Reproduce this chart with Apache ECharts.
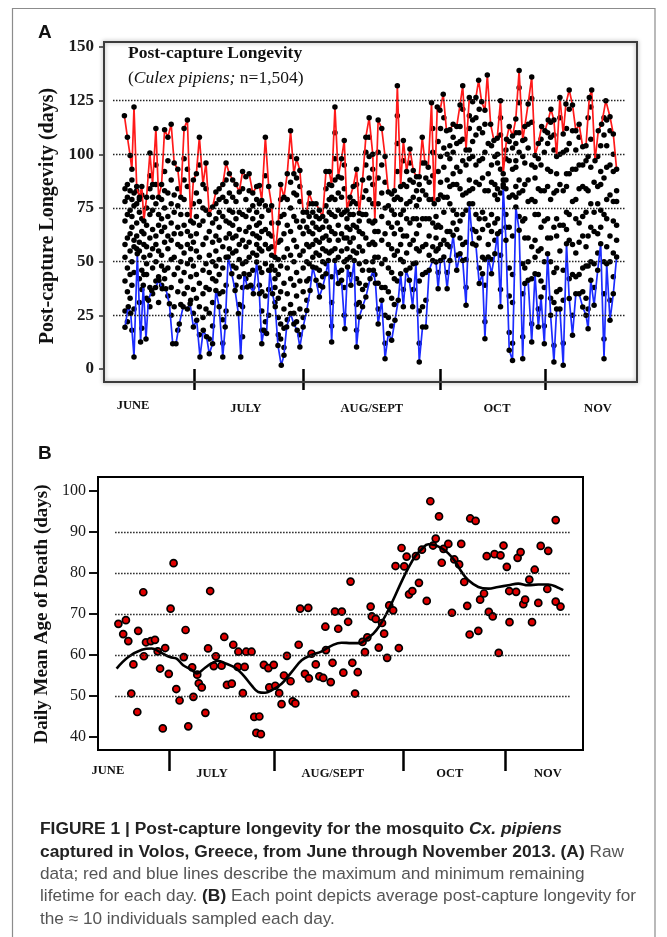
<!DOCTYPE html>
<html>
<head>
<meta charset="utf-8">
<script src="https://cdn.jsdelivr.net/npm/echarts@6/dist/echarts.min.js"></script>
<style>
  html, body { margin: 0; padding: 0; background: #fff; }
  #chart { width: 667px; height: 937px; }
</style>
</head>
<body>
<div id="chart"></div>
<script>
// ---- panel A : raw post-capture longevity, x = sampling day index ----
// daily maximum (red line)
const maxLine = [
  [6.8,118],[7.8,108],[8.7,99.5],[9.3,93],[10,122],[10.9,85],[11.8,80],[12.6,85],[13.3,69],[14.2,80],
  [15.3,100.6],[16.2,86],[17.3,112],[18.2,80],[19.2,86],[20.2,111.5],[21.3,108],[22.4,114],[23.4,96],[24.6,93],
  [25.6,80],[26.7,112],[27.8,116],[28.9,69],[29.8,88],[30.8,91],[31.8,108],[33,86],[34,96],[35.1,72],
  [36.2,75.5],[37.3,82.5],[38.4,84],[39.6,86],[40.7,96],[41.8,91],[42.9,88],[44,86],[45.1,82.5],[46.2,92],
  [47.3,89.5],[48.4,91],[49.6,82],[50.9,85],[51.8,85.5],[52.6,78.5],[53.8,108],[54.9,85],[55.9,76],[57,52],
  [58.1,68],[58.9,86],[60,80],[61.1,91],[62.2,111],[63.3,91],[64.2,98],[65.3,92.5],[66.4,73],[67.6,73],
  [68.4,82],[69.6,77],[70.7,77],[71.8,74],[72.9,71],[74,92],[75.1,92],[75.9,85.5],[77,122],[78.1,89.5],
  [79.2,98],[80.1,106.5],[81,74],[82,80],[83.1,85],[84.2,93],[85.1,72.5],[86.2,88],[87.3,108],[88.4,117],
  [89.6,100],[90.3,69],[91.4,116],[92.6,112],[93.7,99],[94.8,82.5],[95.9,81.5],[96.8,83],[97.8,132],[98.9,85],
  [99.8,106.5],[100.9,92],[102,102.5],[103.1,92.5],[104.2,89.5],[105.1,89.5],[106.1,108],[107,96],[108.1,94],[109.2,124],
  [110.1,77],[111.1,122],[112,120.5],[113.1,128],[114.2,111],[115.3,111.5],[116.4,114],[117.6,113],[118.7,123],[119.6,132],
  [120.7,102],[121.8,126.5],[122.9,124.5],[124,126.5],[124.9,134.5],[125.9,124.5],[127,120.5],[127.8,137],[128.9,114],[130,106.5],
  [131.1,107.5],[132.2,125],[133.1,91],[134.2,107],[135.1,113],[136.2,108.5],[137.3,116.5],[138.4,139],[139.6,106.5],[140.3,113],
  [141.4,123.5],[142.6,136],[143.7,99.5],[144.8,105],[145.9,113],[147,111],[148.1,116],[149,121],[150,116],[150.9,99],
  [152,126.5],[153.1,109.5],[154,123.5],[155.1,130],[156.2,123],[157.3,111],[158.4,114],[159.6,103.5],[160.7,104],[161.8,126.5],
  [162.6,130],[163.7,97],[164.8,111],[165.9,114],[167.3,125],[168.7,117.5],[169.8,109.5],[170.9,93]
];

// daily minimum (blue line)
const minLine = [
  [7,19.5],[8.1,29],[8.9,26],[10,5.6],[11.1,53.7],[12.2,12.6],[13.1,39],[14,14],[14.8,32],[15.9,36.6],
  [17.2,38],[18.3,41.3],[19.4,37.4],[20.6,37.4],[21.8,30.4],[22.9,11.8],[24,11.8],[25.1,21],[26.4,29],[27.8,28],
  [28.7,30.4],[29.8,19.6],[30.9,22.7],[32,5.6],[33.1,18],[34.2,15],[35.1,7.1],[36.2,11.8],[37.3,36.6],[38.4,29],
  [39.6,5.6],[40.4,19.6],[41.4,52.2],[42.6,44.4],[43.7,36.6],[44.8,25.8],[45.6,5.6],[46.7,44.4],[47.8,38.2],[48.9,39],
  [49.8,35],[50.9,49.8],[51.8,35],[52.6,11.8],[53.3,18],[54.2,16.5],[55.3,46],[56.2,35],[57.1,29],[58,11],
  [59.1,1.7],[60,6.4],[60.9,19.6],[62.2,25.8],[63.3,21],[64.4,18],[65.3,10.2],[66.4,19.6],[67.6,27.3],[68.7,36.6],
  [69.6,47.5],[70.7,41.3],[71.8,33.5],[72.9,38.2],[74,44.4],[74.8,50.6],[75.9,12.6],[77,50.6],[78.1,39.8],[79.2,41.3],
  [80.3,18.8],[81.2,47.5],[82.3,39],[83.4,50.6],[84.2,10.2],[85.1,24.2],[86.2,29],[87.3,33.5],[88.7,42],[89.8,46],
  [90.5,40],[91.4,21],[92.6,32],[93.7,4.8],[94.8,16.5],[95.9,13.4],[97,22.7],[98.1,32],[98.9,44.4],[99.8,29],
  [100.7,46],[101.8,41.3],[102.9,29],[104,49.4],[105.1,3.3],[106.2,19.6],[107.3,19.6],[108.4,46],[109.6,50.6],[110.7,49.8],
  [111.4,37.4],[112.2,50.6],[113.3,52.2],[114.4,37.4],[115.3,50.6],[116.4,62.3],[117.6,46],[118.7,53.7],[119.6,50.6],[120.7,29.7],
  [121.8,77],[122.9,58.4],[124,57.6],[125.1,39.8],[126.2,44.4],[127,14.1],[128.1,52.2],[129.2,44.4],[130.3,53.7],[131.2,63],
  [132.2,29],[133.1,84.8],[134,60],[135.1,8.7],[136.2,4],[137.3,75.5],[138.4,64.6],[139.6,4.8],[140.3,39.8],[141.4,41.3],
  [142.6,12.6],[143.7,44.4],[144.8,19.6],[145.7,33.5],[146.8,11.8],[147.9,53.7],[148.9,25],[150,3.3],[150.9,28],[152,28],
  [153.1,1.7],[154.2,58.4],[155.1,32.8],[156.2,15.7],[157.3,35],[158.4,35],[159.6,28.9],[160.7,25],[161.4,18.8],[162.3,41.3],
  [163.4,29.7],[164.6,46],[165.6,58.4],[166.7,4.8],[167.6,49],[168.7,22.7],[169.8,35],[170.9,52.2]
];

// the other individuals of each day: [day, value, value, ...]
const cloudRows = [
  [7,27,41,52,58,69,78,84],[7.8,22,36,47,61,72,80,86],[8.7,33,44,55,63,74,83],[9.3,18,39,50,66,71,79,88],
  [10,28,45,57,60,76,82],[10.9,56,62,68,77,83],[11.8,31,42,55,59,73,79],[12.6,19,37,46,64,70,81],
  [13.3,44,52,58,63],[14.2,33,44,49,57,67,75],[15.3,29,38,53,61,72,84,90],[16.2,35,47,56,65,74,80],
  [17.3,41,50,58,62,77,86,95],[18.2,31,43,55,67,72],[19.2,39,48,53,64,70,79],[20.2,42,46,59,66,75,83,92],
  [21.3,34,47,56,62,71,82,97],[22.4,25,38,51,60,68,77,88],[23.4,29,44,52,63,73,81],[24.6,18,36,47,58,66,76,84],
  [25.6,30,41,50,57,63,72],[26.7,35,45,54,67,79,88,98],[27.8,38,49,58,64,72,85,93],[28.9,32,43,51,56,62],
  [29.8,26,37,48,59,68,77],[30.8,33,44,55,63,71,82],[31.8,16,29,40,52,67,78,95],[33,24,35,46,58,69,75],
  [34,28,38,49,61,74,84],[35.1,14,26,37,45,53,64],[36.2,20,31,42,50,59,68],[37.3,41,48,55,62,70,77],
  [38.4,35,44,51,60,66,73,79],[39.6,12,23,36,47,57,71,80],[40.7,27,39,52,61,69,78,88],[41.8,56,63,68,74,82],
  [42.9,48,54,61,67,73,80],[44,39,47,55,62,70,78],[45.1,30,43,51,58,65,73],[46.2,15,29,38,49,60,72,84],
  [47.3,42,50,57,64,71,79],[48.4,44,52,59,66,74,83],[49.6,38,46,54,63,70,76],[50.9,53,58,62,67,73,79],
  [51.8,39,47,56,61,68,77],[52.6,18,27,36,45,55,64,71],[53.8,22,34,49,58,65,76,90],[54.9,25,37,46,56,63,74],
  [55.9,48,53,57,62,68],[57,31,38,42,46],[58.1,16,24,33,44,51,59],[58.9,14,21,36,48,60,71,79],
  [60,10,19,28,40,52,63,72],[61.1,23,35,47,56,67,79],[62.2,30,42,53,64,75,87,99],[63.3,26,39,50,60,71,82],
  [64.2,22,34,45,57,69,81,89],[65.3,16,28,41,53,66,78,85],[66.4,24,36,47,55,63,69],[67.6,32,41,50,58,66],
  [68.4,42,49,57,64,71,77],[69.6,52,58,63,68,73],[70.7,47,54,60,66,71],[71.8,39,46,53,59,65,70],
  [72.9,43,50,56,61,66],[74,49,55,62,69,76,84],[75.1,54,60,66,73,79,86],[75.9,20,31,43,55,64,72,80],
  [77,56,63,71,79,88,98,110],[78.1,45,52,60,67,74,82],[79.2,46,55,63,72,80,89],[80.1,25,38,50,61,73,84,95],
  [81,51,56,61,66,70],[82,44,52,59,65,72,77],[83.1,55,61,67,72,78],[84.2,18,30,42,54,66,77,86],
  [85.1,31,40,49,57,64,69],[86.2,37,46,55,63,72,80],[87.3,39,50,61,72,83,95,101],[88.4,46,58,69,79,89,99,108],
  [89.6,50,59,68,77,86,93],[90.3,44,52,58,64],[91.4,28,40,52,64,77,89,101],[92.6,38,49,60,71,82,95],
  [93.7,12,25,38,51,63,75,87],[94.8,24,36,47,58,68,76],[95.9,20,33,45,56,66,74],[96.8,30,42,53,63,72,79],
  [97.8,41,55,68,80,92,105,118],[98.9,51,58,65,72,79],[99.8,37,50,62,74,86,97],[100.9,54,62,70,77,85],
  [102,47,58,68,78,88,96],[103.1,37,49,60,70,80,87],[104.2,56,63,70,76,83],[105.1,12,27,41,55,67,79,86],
  [106.2,29,44,57,70,83,96],[107.3,32,45,58,70,81,89],[108.4,53,62,70,79,87],[109.6,57,68,79,90,101,112],
  [110.7,55,61,66,71],[111.4,45,56,67,79,92,106],[112.2,58,66,81,87,99,112],[113.3,60,73,80,94,103,117],
  [114.4,45,58,64,80,88,100],[115.3,57,64,77,85,98,104],[116.4,68,74,86,91,101,108],[117.6,53,65,72,86,94,105],
  [118.7,61,69,84,92,106,113],[119.6,58,72,81,97,107,121],[120.7,38,51,59,74,82,95],[121.8,83,88,98,102,112,118],
  [122.9,65,77,84,99,106,116],[124,64,72,87,95,109,117],[125.1,47,61,70,86,97,112,121],[126.2,52,65,73,89,98,110],
  [127,22,39,51,70,83,101,114],[128.1,58,67,83,91,105],[129.2,51,64,72,87,95,104],[130.3,60,68,81,86,99],
  [131.2,70,79,84,96,100],[132.2,37,53,64,82,93,109,117],[133.1,86,88],[134,66,72,84,88,98,102],
  [135.1,17,34,47,66,80,97,106],[136.2,12,31,44,62,81,93,103],[137.3,80,85,94,97,105,110],[138.4,71,82,88,101,110,124,131],
  [139.6,15,35,49,69,83,99],[140.3,47,61,70,86,96,107],[141.4,50,61,78,88,103,114],[142.6,21,42,57,79,95,115,126],
  [143.7,52,60,72,78,89,94],[144.8,28,44,55,72,84,98],[145.7,41,56,66,83,95,107],[146.8,20,38,50,69,83,101],
  [147.9,61,70,85,93,105,110],[148.9,33,50,61,79,92,108,115],[150,11,31,45,66,82,102,109],[150.9,36,47,62,70,83,91],
  [152,37,55,67,86,100,117],[153.1,12,32,46,67,83,101],[154.2,65,73,85,91,102,112],[155.1,42,60,72,91,105,121],
  [156.2,25,44,58,78,93,111],[157.3,43,54,70,79,93,102],[158.4,44,59,68,84,95,108],[159.6,36,47,62,71,85,95],
  [160.7,33,48,57,73,84,97],[161.4,28,48,62,83,99,117],[162.3,50,66,77,94,107,122],[163.4,38,49,64,73,87],
  [164.6,54,63,77,85,99],[165.6,66,74,86,92,104],[166.7,14,35,50,72,89,109,117],[167.6,57,70,79,94,104,116],
  [168.7,32,50,62,81,95,111],[169.8,43,54,69,78,92,100],[170.9,60,67,78,83]
];

const gridValsA = [25, 50, 75, 100, 125];
const monthTicksA = [30, 66.3, 112, 147];
const monthLabelDaysA = [9.7, 47.3, 89.3, 131, 164.7];
const monthNames = ['JUNE', 'JULY', 'AUG/SEPT', 'OCT', 'NOV'];

// ---- panel B : daily mean age of death ----
const daysB = [
  5.9,6.8,8.4,9.3,10.1,11.1,11.8,13.1,13.4,15.1,15.3,16,17.6,19,19.9,20.7,21.6,22.4,23.6,24.2,
  25.2,26.1,27.2,28.6,29.2,30.1,31.4,31.8,33.1,33.6,34.6,35.8,36.7,37.4,38.6,39.3,41.2,42.1,43,44.6,
  45.1,46.6,46.8,48.3,48.9,49.4,51.2,52.1,52.8,53.8,54.3,55.3,56.8,57.1,58.6,59.1,60.4,61.2,62,63,
  64.2,64.9,65.8,66.9,67.4,69,70.1,70.3,71.2,72.6,73.8,75.1,75.8,76,77.6,78.2,79,80.1,81.3,81.8,
  83.4,84.2,84.8,85.7,86.6,88.2,89,89.8,90.9,91.3,92.6,93.6,94.7,95.4,96.4,97.1,98.4,99.2,100.3,101.2,
  102.1,102.9,103.7,104.8,106,107,108,109,109.6,110.8,111.7,112.6,113.7,114.6,115.2,116.8,118,118.8,120.4,121.1,
  122.1,123.1,123.9,124.1,125.9,126.8,127.4,128.7,129.6,130.3,131.6,132.2,133.6,134.2,135.2,136.3,137.1,137.2,139.4,139.9,
  140.9,141.8,142.4,143.8,144.7,145.6,146.8,147.6,149.8,150.1,152.6,152.6,154.2
];
const meanB = [
  38.7,67.6,65.1,68.5,63.4,50.6,57.7,46.1,65.9,75.3,59.7,63.1,63.4,63.7,60.9,56.7,42.1,61.7,55.4,71.3,
  82.4,51.7,48.9,59.5,66.1,42.6,57,49.8,55.2,53.1,52.1,45.9,61.6,75.6,57.3,59.7,57.4,64.4,52.7,53,
  62.5,57.1,60.8,50.7,57.1,60.8,60.8,44.9,41,45,40.7,57.6,56.8,52.1,57.6,52.5,50.7,48,55,59.8,
  53.6,48.7,48.2,62.5,71.3,55.4,71.5,54.3,60.3,57.7,54.8,54.4,66.9,61.2,53.4,58.1,70.6,66.4,70.6,55.7,
  68.1,77.9,58.1,50.6,55.8,63.2,60.7,64.3,71.8,69.4,68.8,61.8,67.8,65.2,59.3,72.1,70.9,81.7,61.7,86.1,
  81.6,84,74.8,75.6,84.1,77.6,85.7,100.7,73.2,97.5,86.7,88.4,93.8,82.5,85.9,87.1,70.3,83.3,82.1,87.1,
  77.8,72,65,93.3,92.7,65.9,73.5,75,84.1,70.5,69.4,84.6,60.5,84.3,86.7,81.5,75.6,68,75.4,83.7,
  85.1,72.4,73.5,78.4,68,80.8,72.7,86.6,76.1,85.4,73,92.9,71.8
];
// smoothed trend (black curve)
const trendDaysB = [
  6.2,10.1,14.6,17.9,20.7,24,26.2,28.4,31.2,32.9,35.7,37.9,40.1,42.3,45.7,48.4,51.2,53.4,55.7,57.9,
  61.2,64.6,67.9,71.2,74.6,77.9,81.2,84.5,87.3,89.6,91.8,94,96.2,98.4,101.2,103.4,105.7,107.9,110.1,112.3,
  114.6,116.8,119,121.2,123.4,126.8,130.1,133.4,136.8,140.1,143.4,146.8,150.1,152.9,155.1
];
const trendB = [
  56.7,59.5,61.3,61.6,60.7,59.5,59.1,57.5,56.4,55.5,56.9,58,58.6,58,56.9,55.1,52.6,51,50.8,51.4,
  53,55.9,58.7,60,60.9,62.3,63,62.9,62.9,64,65.2,67.3,70.1,73.4,77.9,81.1,84,85.8,87,86.8,
  86,84.8,82.9,80.3,78.3,76.6,76.2,76.6,77,77.4,77,77.2,77.2,76.6,75.8
];
const gridValsB = [50, 60, 70, 80, 90];
const monthTicksB = [23.7, 58.7, 101.7, 135.7];
const monthLabelDaysB = [3.3, 38, 78.3, 117.3, 150];

const serif = 'Liberation Serif, Times New Roman, serif';
const sans = 'Liberation Sans, Arial, sans-serif';

const cloudData = [];
cloudRows.forEach(row => {
  row.slice(1).forEach(v => cloudData.push([row[0], v]));
});
const meanData = daysB.map((d, i) => [d, meanB[i]]);
const trendData = trendDaysB.map((d, i) => [d, trendB[i]]);

const dotted = { color: '#222', width: 1.3, type: [1.5, 1.5] };
const gridMark = (vals, x0, x1) => ({
  silent: true,
  symbol: ['none', 'none'],
  label: { show: false },
  lineStyle: dotted,
  data: vals.map(v => [{ coord: [x0, v] }, { coord: [x1, v] }]),
});

// JUNE sits a little higher than the other month names in the original
const monthAxis = (gridIndex, max, ticks, labelDays, margin) => ({
  type: 'value',
  gridIndex,
  min: 0,
  max,
  position: 'bottom',
  offset: 13,
  axisLine: { show: false },
  splitLine: { show: false },
  axisTick: { show: true, customValues: ticks, length: 21, lineStyle: { color: '#000', width: 2.5 } },
  axisLabel: {
    show: true,
    customValues: labelDays,
    formatter: v => {
      const i = labelDays.indexOf(v);
      return i === 0 ? '{j|' + monthNames[i] + '}' : '{m|' + monthNames[i] + '}';
    },
    margin,
    rich: {
      j: { color: '#111', fontFamily: serif, fontWeight: 'bold', fontSize: 12.5 },
      m: { color: '#111', fontFamily: serif, fontWeight: 'bold', fontSize: 12.5, padding: [3, 0, 0, 0] },
    },
  },
});

const myChart = echarts.init(document.getElementById('chart'));
myChart.setOption({
  backgroundColor: '#fff',
  animation: false,
  grid: [
    { left: 104, width: 533, top: 47, height: 322, outerBoundsMode: 'none' },
    { left: 98, width: 485, top: 491, height: 246, outerBoundsMode: 'none' },
  ],
  xAxis: [
    monthAxis(0, 177.7, monthTicksA, monthLabelDaysA, 17),
    monthAxis(1, 161.7, monthTicksB, monthLabelDaysB, 14),
  ],
  yAxis: [
    {
      type: 'value',
      gridIndex: 0,
      min: 0,
      max: 150,
      interval: 25,
      axisLine: { show: false },
      splitLine: { show: false },
      axisTick: { show: true, length: 5, lineStyle: { color: '#333', width: 1.5 } },
      axisLabel: { margin: 10, color: '#1a1a1a', fontFamily: serif, fontWeight: 'bold', fontSize: 17 },
      name: 'Post-capture Longevity (days)',
      nameLocation: 'middle',
      nameRotate: 90,
      nameGap: 36,
      nameTextStyle: {
        color: '#111', fontFamily: serif, fontWeight: 'bold', fontSize: 20, padding: [0, 16, 0, 0],
      },
    },
    {
      type: 'value',
      gridIndex: 1,
      min: 40,
      max: 100,
      interval: 10,
      axisLine: { show: false },
      splitLine: { show: false },
      axisTick: { show: true, length: 9, lineStyle: { color: '#111', width: 2 } },
      axisLabel: { margin: 12, color: '#1a1a1a', fontFamily: serif, fontSize: 16 },
      name: 'Daily Mean Age of Death (days)',
      nameLocation: 'middle',
      nameRotate: 90,
      nameGap: 37,
      nameTextStyle: { color: '#111', fontFamily: serif, fontWeight: 'bold', fontSize: 19 },
    },
  ],
  series: [
    {
      type: 'scatter',
      xAxisIndex: 0,
      yAxisIndex: 0,
      data: cloudData,
      symbolSize: 5.5,
      itemStyle: { color: '#000', opacity: 1 },
      silent: true,
      z: 2,
    },
    {
      type: 'line',
      xAxisIndex: 0,
      yAxisIndex: 0,
      data: maxLine,
      showAllSymbol: true,
      symbol: 'circle',
      symbolSize: 5.5,
      itemStyle: { color: '#000' },
      lineStyle: { color: '#ff1a1a', width: 1.7 },
      silent: true,
      z: 3,
      markLine: gridMark(gridValsA, 3, 174),
    },
    {
      type: 'line',
      xAxisIndex: 0,
      yAxisIndex: 0,
      data: minLine,
      showAllSymbol: true,
      symbol: 'circle',
      symbolSize: 5.5,
      itemStyle: { color: '#000' },
      lineStyle: { color: '#1c2cff', width: 1.7 },
      silent: true,
      z: 3,
    },
    {
      type: 'scatter',
      xAxisIndex: 1,
      yAxisIndex: 1,
      data: meanData,
      symbolSize: 7,
      itemStyle: { color: '#e00000', borderColor: '#000', borderWidth: 1.7, opacity: 1 },
      silent: true,
      z: 3,
    },
    {
      type: 'line',
      xAxisIndex: 1,
      yAxisIndex: 1,
      data: trendData,
      smooth: 0.4,
      symbol: 'none',
      lineStyle: { color: '#000', width: 2.6 },
      silent: true,
      z: 4,
      markLine: gridMark(gridValsB, 5.7, 157.3),
    },
  ],
  graphic: [
    {
      type: 'rect',
      shape: { x: 12.5, y: 8.5, width: 642.5, height: 980 },
      style: { fill: 'none', stroke: '#8c8c8c', lineWidth: 1.2 },
      silent: true,
    },
    {
      type: 'rect',
      shape: { x: 104, y: 42, width: 533, height: 340 },
      style: { fill: 'none', stroke: '#3c3c3c', lineWidth: 2, shadowBlur: 4, shadowColor: 'rgba(0,0,0,0.35)' },
      silent: true,
      z: 10,
    },
    {
      type: 'rect',
      shape: { x: 98, y: 477, width: 485, height: 273 },
      style: { fill: 'none', stroke: '#000', lineWidth: 2 },
      silent: true,
      z: 10,
    },
    {
      type: 'text',
      left: 38,
      top: 23,
      style: { text: 'A', font: 'bold 19px ' + sans, fill: '#111' },
    },
    {
      type: 'text',
      left: 38,
      top: 444,
      style: { text: 'B', font: 'bold 19px ' + sans, fill: '#111' },
    },
    {
      type: 'text',
      left: 128,
      top: 44,
      z: 20,
      style: {
        text: '{b|Post-capture Longevity}\n{r|(}{i|Culex pipiens;}{r| n=1,504)}',
        rich: {
          b: { font: 'bold 17.5px ' + serif, fill: '#111', lineHeight: 25 },
          r: { font: '17.5px ' + serif, fill: '#111', lineHeight: 25 },
          i: { font: 'italic 17.5px ' + serif, fill: '#111', lineHeight: 25 },
        },
      },
    },
    {
      type: 'text',
      left: 40,
      top: 821,
      style: {
        text:
          '{b|FIGURE 1 | Post-capture longevity for the mosquito }{bi|Cx. pipiens}\n' +
          '{b|captured in Volos, Greece, from June through November 2013. (A)}{r| Raw}\n' +
          '{r|data; red and blue lines describe the maximum and minimum remaining}\n' +
          '{r|lifetime for each day. }{b|(B)}{r| Each point depicts average post-capture longevity for}\n' +
          '{r|the \u2248 10 individuals sampled each day.}',
        rich: {
          b: { font: 'bold 17.4px ' + sans, fill: '#222', lineHeight: 22.4 },
          bi: { font: 'italic bold 17.4px ' + sans, fill: '#222', lineHeight: 22.4 },
          r: { font: '17.2px ' + sans, fill: '#555', lineHeight: 22.4 },
        },
      },
    },
  ],
});
</script>
</body>
</html>
